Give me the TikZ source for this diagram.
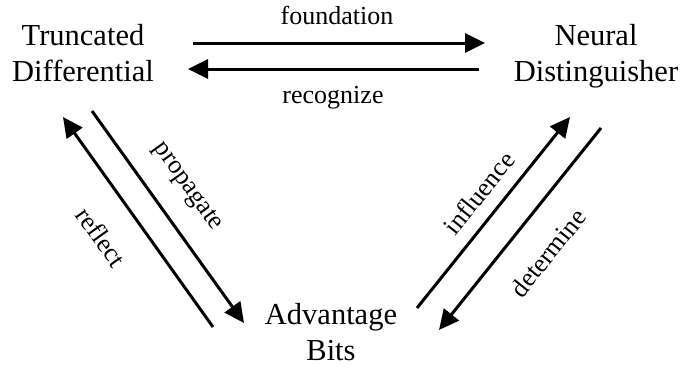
\documentclass[tikz,border=0pt]{standalone}
\usepackage{fontspec}
\setmainfont{Liberation Serif}
\usetikzlibrary{arrows.meta}
\begin{document}
\begin{tikzpicture}[x=1pt,y=-1pt,
  concept/.style={align=center,font=\fontsize{30.5}{36}\selectfont,inner sep=0pt,anchor=base},
  lbl/.style={font=\fontsize{26}{30}\selectfont,inner sep=0pt},
  conn/.style={line width=3pt,-{Triangle[length=20pt,width=19pt]}}]
\useasboundingbox (0,0) rectangle (680,367);
\node[concept] (td) at (83,81) {Truncated\\Differential};
\node[concept] (nd) at (596,81) {Neural\\Distinguisher};
\node[concept] (ab) at (331,360) {Advantage\\Bits};
% endpoints
\coordinate (f1) at (193,43);  \coordinate (f2) at (485,43);
\coordinate (r1) at (479,69);  \coordinate (r2) at (188,69);
\coordinate (p1) at (92,111);  \coordinate (p2) at (244,323);
\coordinate (e1) at (213,327); \coordinate (e2) at (63,117);
\coordinate (i1) at (417,308); \coordinate (i2) at (570,117);
\coordinate (d1) at (601,128); \coordinate (d2) at (439,330);
\draw[conn] (f1) -- (f2);
\draw[conn] (r1) -- (r2);
\draw[conn] (p1) -- (p2);
\draw[conn] (e1) -- (e2);
\draw[conn] (i1) -- (i2);
\draw[conn] (d1) -- (d2);
\node[lbl] (lf) at (337,15) {foundation};
\node[lbl] (lr) at (333,98) {recognize};
\node[lbl,rotate=-54.4] (lp) at (187,187) {propagate};
\node[lbl,rotate=-54.4] (le) at (101,237) {reflect};
\node[lbl,rotate=51.3] (li) at (479,193) {influence};
\node[lbl,rotate=51.3] (ld) at (548,253) {determine};
\end{tikzpicture}
\end{document}
